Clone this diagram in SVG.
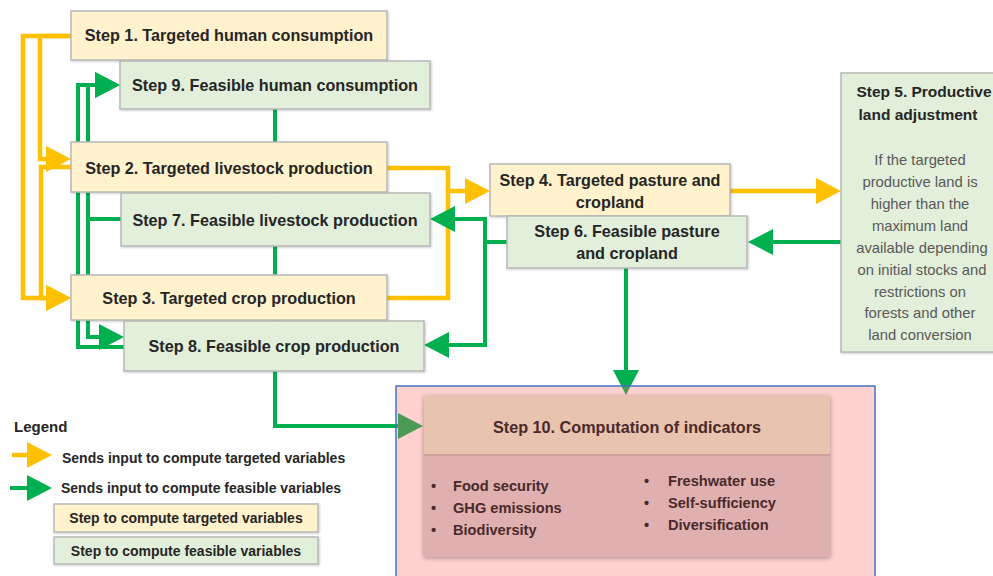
<svg xmlns="http://www.w3.org/2000/svg" width="993" height="576" viewBox="0 0 993 576">
<style>
.o{fill:none;stroke:#FFC000;stroke-width:4.5;stroke-linejoin:miter}
.g{fill:none;stroke:#00B050;stroke-width:4;stroke-linejoin:miter}
.t{fill:#FFF2CC;stroke:#B8B8B8;stroke-width:1.5}
.f{fill:#E2EFDA;stroke:#B8B8B8;stroke-width:1.5}
.lb{font-family:"Liberation Sans",Arial,sans-serif;font-weight:bold;font-size:16.2px;fill:#262626;text-anchor:middle}
.body{font-family:"Liberation Sans",Arial,sans-serif;font-size:14.8px;fill:#595959;text-anchor:middle}
.leg{font-family:"Liberation Sans",Arial,sans-serif;font-weight:bold;font-size:14px;fill:#262626}
.ind{font-family:"Liberation Sans",Arial,sans-serif;font-weight:bold;font-size:14.6px;fill:#4A2A2A}
</style>
<defs>
<marker id="ao" viewBox="0 0 25 26" refX="0" refY="13" markerWidth="25" markerHeight="26" markerUnits="userSpaceOnUse" orient="auto"><path d="M0,0 L25,13 L0,26 Z" fill="#FFC000"/></marker>
<marker id="ag" viewBox="0 0 25 26" refX="0" refY="13" markerWidth="25" markerHeight="26" markerUnits="userSpaceOnUse" orient="auto"><path d="M0,0 L25,13 L0,26 Z" fill="#00B050"/></marker>
<filter id="sh" x="-5%" y="-5%" width="112%" height="115%"><feDropShadow dx="1" dy="1" stdDeviation="1" flood-color="#000" flood-opacity="0.2"/></filter>
<filter id="sh2" x="-5%" y="-8%" width="110%" height="118%"><feDropShadow dx="0" dy="1" stdDeviation="2.5" flood-color="#000" flood-opacity="0.35"/></filter>
</defs>

<g id="connectors">
<path class="o" d="M71,36 H23 V298 H46" marker-end="url(#ao)"/>
<path class="o" d="M71,36 H40 V159 H46" marker-end="url(#ao)"/>
<path class="o" d="M71,167 H41 V298 H46" marker-end="url(#ao)"/>
<path class="o" d="M387,168 H448 V191 H465" marker-end="url(#ao)"/>
<path class="o" d="M387,298 H448 V189"/>
<path class="o" d="M730,191 H816" marker-end="url(#ao)"/>
<path class="g" d="M124,347 H78 V85 H95" marker-end="url(#ag)"/>
<path class="g" d="M121,219 H88 V85 H95" marker-end="url(#ag)"/>
<path class="g" d="M88,219 V337 H99" marker-end="url(#ag)"/>
<path class="g" d="M275,109 V426 H398" marker-end="url(#ag)"/>
<path class="g" d="M841,242 H773" marker-end="url(#ag)"/>
<path class="g" d="M507,242 H485 V219 H455" marker-end="url(#ag)"/>
<path class="g" d="M485,240 V345 H449" marker-end="url(#ag)"/>
<path class="g" d="M626,268 V370" marker-end="url(#ag)"/>
</g>

<g id="step10">
<rect x="396" y="386" width="479" height="200" fill="#FF6666" fill-opacity="0.3" stroke="#4472C4" stroke-width="1.5"/>
<g filter="url(#sh2)">
<rect x="424" y="396" width="406" height="59" fill="#E8C3AE"/>
<rect x="424" y="455" width="406" height="102" fill="#E0AFAF"/>
</g>
<line x1="424" y1="455" x2="830" y2="455" stroke="#C99A94" stroke-width="1.5"/>
<text class="lb" x="627" y="433" style="fill:#4A2A2A">Step 10. Computation of indicators</text>
<text class="ind" x="431" y="491">•</text>
<text class="ind" x="453" y="491">Food security</text>
<text class="ind" x="431" y="513">•</text>
<text class="ind" x="453" y="513">GHG emissions</text>
<text class="ind" x="431" y="535">•</text>
<text class="ind" x="453" y="535">Biodiversity</text>
<text class="ind" x="644" y="486">•</text>
<text class="ind" x="668" y="486">Freshwater use</text>
<text class="ind" x="644" y="508">•</text>
<text class="ind" x="668" y="508">Self-sufficiency</text>
<text class="ind" x="644" y="530">•</text>
<text class="ind" x="668" y="530">Diversification</text>
</g>

<g id="step1"><rect class="t" x="71" y="11" width="316" height="49" filter="url(#sh)"/><text class="lb" x="229" y="41">Step 1. Targeted human consumption</text></g>
<g id="step9"><rect class="f" x="120" y="61" width="310" height="48" filter="url(#sh)"/><text class="lb" x="275" y="91">Step 9. Feasible human consumption</text></g>
<g id="step2"><rect class="t" x="71" y="142" width="316" height="50" filter="url(#sh)"/><text class="lb" x="229" y="174">Step 2. Targeted livestock production</text></g>
<g id="step7"><rect class="f" x="121" y="193" width="309" height="53" filter="url(#sh)"/><text class="lb" x="275" y="226">Step 7. Feasible livestock production</text></g>
<g id="step3"><rect class="t" x="71" y="275" width="316" height="45" filter="url(#sh)"/><text class="lb" x="229" y="304">Step 3. Targeted crop production</text></g>
<g id="step8"><rect class="f" x="124" y="321" width="300" height="50" filter="url(#sh)"/><text class="lb" x="274" y="352">Step 8. Feasible crop production</text></g>
<g id="step4"><rect class="t" x="490" y="164" width="240" height="52" filter="url(#sh)"/><text class="lb" x="610" y="186">Step 4. Targeted pasture and</text><text class="lb" x="610" y="208">cropland</text></g>
<g id="step6"><rect class="f" x="507" y="216" width="240" height="52" filter="url(#sh)"/><text class="lb" x="627" y="237">Step 6. Feasible pasture</text><text class="lb" x="627" y="259">and cropland</text></g>
<g id="step5"><rect class="f" x="841" y="73" width="165" height="279" filter="url(#sh)"/>
<text class="lb" x="924" y="97" style="font-size:15.5px">Step 5. Productive</text>
<text class="lb" x="918" y="120" style="font-size:15.5px">land adjustment</text>
<text class="body" x="920" y="165">If the targeted</text>
<text class="body" x="920" y="187">productive land is</text>
<text class="body" x="920" y="209">higher than the</text>
<text class="body" x="920" y="231">maximum land</text>
<text class="body" x="922" y="253">available depending</text>
<text class="body" x="922" y="275">on initial stocks and</text>
<text class="body" x="920" y="297">restrictions on</text>
<text class="body" x="920" y="318">forests and other</text>
<text class="body" x="920" y="340">land conversion</text>
</g>

<g id="legend">
<text x="14" y="432" style="font-family:'Liberation Sans',Arial,sans-serif;font-weight:bold;font-size:15px;fill:#262626">Legend</text>
<path class="o" d="M12,455 H27" marker-end="url(#ao)"/>
<text class="leg" x="62" y="463">Sends input to compute targeted variables</text>
<path class="g" d="M10,488 H27" marker-end="url(#ag)"/>
<text class="leg" x="61" y="493">Sends input to compute feasible variables</text>
<rect class="t" x="54" y="504" width="264" height="28" filter="url(#sh)"/>
<text class="lb" x="186" y="523" style="font-size:14px">Step to compute targeted variables</text>
<rect class="f" x="54" y="537" width="264" height="27" filter="url(#sh)"/>
<text class="lb" x="186" y="556" style="font-size:14px">Step to compute feasible variables</text>
</g>
</svg>
